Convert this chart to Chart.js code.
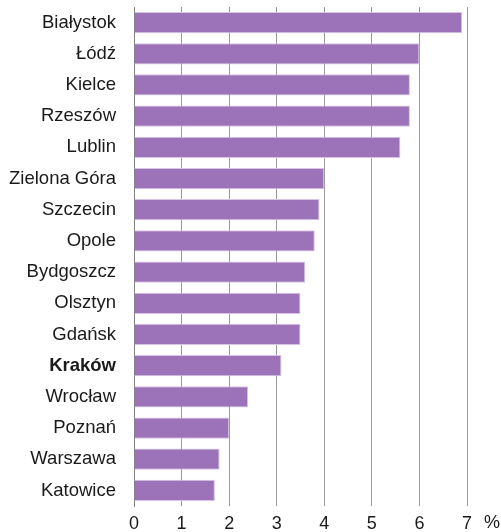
<!DOCTYPE html>
<html>
<head>
<meta charset="utf-8">
<script src="https://cdn.jsdelivr.net/npm/chart.js@4"></script>
<style>
  html, body { margin: 0; padding: 0; background: #fff; }
  #wrap { width: 501px; height: 532px; }
</style>
</head>
<body>
<div id="wrap"><canvas id="chart" width="501" height="532"></canvas></div>
<script>
const cities = ["Białystok", "Łódź", "Kielce", "Rzeszów", "Lublin", "Zielona Góra", "Szczecin", "Opole",
  "Bydgoszcz", "Olsztyn", "Gdańsk", "Kraków", "Wrocław", "Poznań", "Warszawa", "Katowice"];
const values = [6.9, 6.0, 5.8, 5.8, 5.6, 4.0, 3.9, 3.8, 3.6, 3.5, 3.5, 3.1, 2.4, 2.0, 1.8, 1.7];
const xTicks = [0, 1, 2, 3, 4, 5, 6, 7];
const unitLabel = "%";
const boldCity = "Kraków";

const FONT = "'Liberation Sans', Arial, sans-serif";

// "%" after the last tick
const unitPlugin = {
  id: "unit",
  afterDraw(chart) {
    const x = chart.scales.x;
    const ctx = chart.ctx;
    ctx.save();
    ctx.font = "18px " + FONT;
    ctx.fillStyle = "#1a1a1a";
    ctx.textAlign = "center";
    ctx.textBaseline = "middle";
    ctx.fillText(unitLabel, x.getPixelForValue(xTicks[xTicks.length - 1]) + 25, 523);
    ctx.restore();
  }
};

const ctx = document.getElementById("chart").getContext("2d");
new Chart(ctx, {
  type: "bar",
  data: {
    labels: cities,
    datasets: [{
      data: values,
      backgroundColor: "#9c73b8",
      borderColor: "#d6c3e6",
      borderWidth: 1,
      barPercentage: 0.68,
      categoryPercentage: 1
    }]
  },
  options: {
    indexAxis: "y",
    responsive: false,
    animation: false,
    layout: { padding: { top: 7, right: 34, left: 0, bottom: 0 } },
    plugins: {
      legend: { display: false },
      tooltip: { enabled: false }
    },
    scales: {
      x: {
        min: 0,
        max: 7,
        afterBuildTicks: (s) => { s.ticks = xTicks.map(v => ({ value: v })); },
        afterFit: (s) => { s.height = 26; s.paddingLeft = 0; s.paddingRight = 0; },
        grid: { color: "#999", lineWidth: 1, drawTicks: false },
        border: { display: false },
        ticks: {
          padding: 7,
          color: "#1a1a1a",
          font: { family: FONT, size: 18 }
        }
      },
      y: {
        afterFit: (s) => { s.width = 134; s.paddingTop = 0; s.paddingBottom = 0; },
        grid: { display: false, drawTicks: false },
        border: { display: true, color: "#808080", width: 1 },
        ticks: {
          padding: 18,
          color: "#1a1a1a",
          font: (c) => ({
            family: FONT,
            size: 18.5,
            weight: cities[c.index] === boldCity ? "bold" : "normal"
          })
        }
      }
    }
  },
  plugins: [unitPlugin]
});
</script>
</body>
</html>
